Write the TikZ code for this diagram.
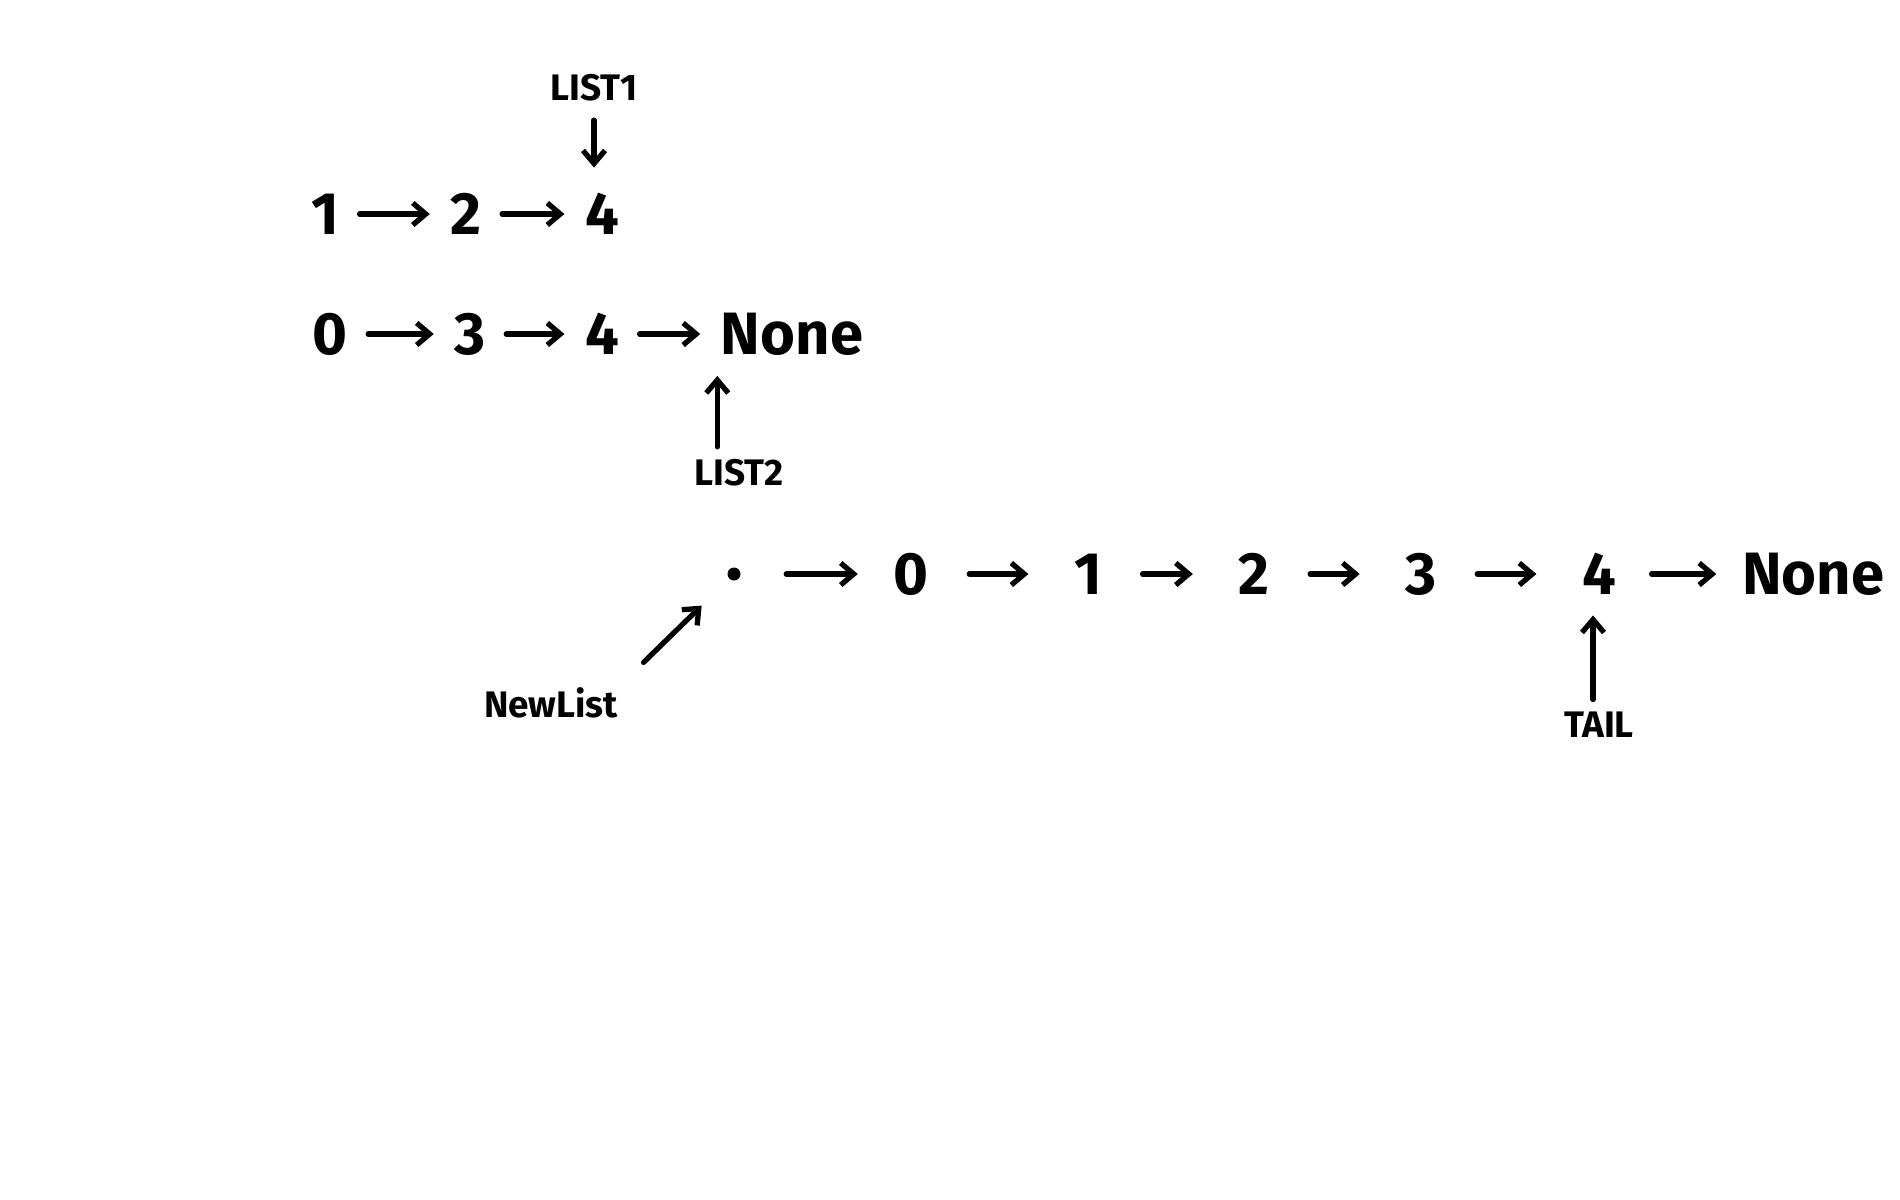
\documentclass[tikz,border=0pt]{standalone}
\usepackage{fontspec}
\setmainfont{Fira Sans}
\usepackage{tikz}
\usetikzlibrary{arrows.meta}

\begin{document}
\begin{tikzpicture}[x=0.01cm,y=-0.01cm]
        \tikzstyle{v} = [inner sep=0.2cm, font=\fontsize{17}{20}\selectfont\bfseries]
        \tikzstyle{lbl} = [inner sep=0.12cm, font=\fontsize{10.5}{12}\selectfont\bfseries]
        \tikzstyle{e} = [line width=1.5pt, line cap=round, -{Straight Barb[length=0.13cm,width=0.22cm]}]
        \tikzstyle{el} = [e, shorten <=0.2cm, shorten >=0.25cm]
        \useasboundingbox (0,0) rectangle (1900,1200);

        % first list
        \node[lbl](list1) at (594,88){LIST1};
        \node[v](a1) at (325,214){1};
        \node[v](a2) at (466,214){2};
        \node[v](a4) at (602,214){4};
        \draw[e](a1)--(a2);
        \draw[e](a2)--(a4);
        \draw[e, shorten <=0.06cm, shorten >=0.05cm](list1.south)--(list1.south |- a4.north);

        % second list
        \node[v](b0) at (330,334){0};
        \node[v](b3) at (470,334){3};
        \node[v](b4) at (602,334){4};
        \node[v](bnone) at (792,334){None};
        \node[lbl](list2) at (739,473){LIST2};
        \draw[e](b0)--(b3);
        \draw[e](b3)--(b4);
        \draw[e](b4)--(bnone);
        \draw[e]([xshift=0.17cm]bnone.south west |- list2.north)--([xshift=0.17cm]bnone.south west);

        % merged list
        \node[circle, fill=black, inner sep=0pt, minimum size=0.13cm](dummy) at (734,574){};
        \node[v](c0) at (911,574){0};
        \node[v](c1) at (1088,574){1};
        \node[v](c2) at (1254,574){2};
        \node[v](c3) at (1421,574){3};
        \node[v](c4) at (1599,574){4};
        \node[v](cnone) at (1813,574){None};
        \node[lbl](newlist) at (551,703){NewList};
        \node[lbl](tail) at (1599,725){TAIL};
        \draw[e, shorten <=0.45cm, shorten >=0.15cm](dummy)--(c0);
        \draw[el](c0)--(c1);
        \draw[el](c1)--(c2);
        \draw[el](c2)--(c3);
        \draw[el](c3)--(c4);
        \draw[e, shorten <=0.15cm, shorten >=0.05cm](c4)--(cnone);
        \draw[e, shorten <=0.18cm, shorten >=0.38cm](newlist.north east)--(dummy);
        \draw[e]([xshift=-0.06cm]tail.north)--([xshift=-0.06cm]tail.north |- c4.south);

    \end{tikzpicture}
\end{document}
